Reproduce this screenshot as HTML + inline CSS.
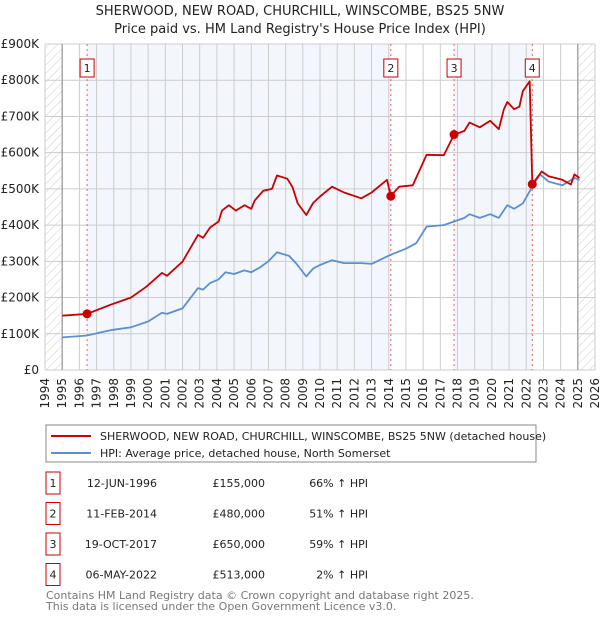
<!DOCTYPE html>
<html><head><meta charset="utf-8"><style>
body{margin:0;background:#fff;font-family:"DejaVu Sans","Liberation Sans",sans-serif;}
svg text{font-family:"DejaVu Sans","Liberation Sans",sans-serif;}
</style></head><body>
<svg id="c" width="600" height="620" xmlns="http://www.w3.org/2000/svg">
<defs><pattern id="h" width="6" height="6" patternUnits="userSpaceOnUse" patternTransform="rotate(45)"><line x1="0" y1="0" x2="0" y2="6" stroke="#ccc" stroke-width="1"/></pattern></defs>
<text x="300" y="15" text-anchor="middle" font-size="13" fill="#222">SHERWOOD, NEW ROAD, CHURCHILL, WINSCOMBE, BS25 5NW</text>
<text x="300" y="33" text-anchor="middle" font-size="13" fill="#222">Price paid vs. HM Land Registry's House Price Index (HPI)</text>
<g id="plot"></g>
<rect x="46" y="425" width="490" height="37" fill="#fff" stroke="#888"/>
<line x1="51" y1="436" x2="91" y2="436" stroke="#cc0000" stroke-width="2"/>
<text x="100" y="440" font-size="11" fill="#222">SHERWOOD, NEW ROAD, CHURCHILL, WINSCOMBE, BS25 5NW (detached house)</text>
<line x1="51" y1="453" x2="91" y2="453" stroke="#5b8fd4" stroke-width="2"/>
<text x="100" y="457" font-size="11" fill="#222">HPI: Average price, detached house, North Somerset</text>
<g id="tbl" font-size="11" fill="#222"></g>
<text x="46" y="599" font-size="11" fill="#777">Contains HM Land Registry data © Crown copyright and database right 2025.</text>
<text x="46" y="610" font-size="11" fill="#777">This data is licensed under the Open Government Licence v3.0.</text>
</svg>
<script>
const redYears=[1995,1996.45,1997.8,1999,1999.9,2000.8,2001.1,2002,2002.9,2003.2,2003.6,2004.1,2004.3,2004.7,2005.1,2005.6,2006,2006.2,2006.7,2007.2,2007.5,2008.1,2008.4,2008.7,2009.2,2009.6,2010,2010.7,2011.4,2012.4,2013,2013.9,2014.12];
const redVals=[150,155,180,200,230,268,260,299,373,365,393,410,440,455,440,455,445,468,495,500,537,528,505,460,428,461,479,506,490,474,490,525,480];
const red2Years=[2014.12,2014.6,2015.4,2016.2,2017.2,2017.8,2018.4,2018.7,2019.3,2019.9,2020.4,2020.7,2020.9,2021.3,2021.6,2021.8,2022.2,2022.35,2022.9,2023.3,2024.1,2024.6,2024.8,2025.1];
const red2Vals=[480,506,510,594,593,650,660,683,670,688,665,720,740,720,727,770,797,513,548,535,525,512,540,530];
const hpiYears=[1995,1996.4,1997.8,1999,2000,2000.8,2001.1,2002,2002.9,2003.2,2003.6,2004.1,2004.5,2005,2005.6,2006,2006.5,2007,2007.5,2008.2,2008.6,2008.8,2009.2,2009.6,2010,2010.7,2011.4,2012.4,2013,2014.1,2015,2015.6,2016.2,2017.2,2017.8,2018.4,2018.7,2019.3,2019.9,2020.4,2020.9,2021.3,2021.8,2022.35,2022.8,2023.3,2024.1,2024.8,2025.1];
const hpiVals=[90,95,110,118,134,158,155,170,226,222,240,250,270,265,275,270,283,300,325,315,295,283,258,280,290,303,295,295,293,318,335,350,396,400,410,420,430,420,430,420,455,445,460,506,540,520,510,530,525];
const saleYears=[1996.45,2014.12,2017.8,2022.35];
const saleVals=[155,480,650,513];
const saleDates=["12-JUN-1996","11-FEB-2014","19-OCT-2017","06-MAY-2022"];
const salePrices=["£155,000","£480,000","£650,000","£513,000"];
const salePct=["66% ↑ HPI","51% ↑ HPI","59% ↑ HPI","2% ↑ HPI"];
const yTicks=[0,100,200,300,400,500,600,700,800,900];
const yLabels=["£0","£100K","£200K","£300K","£400K","£500K","£600K","£700K","£800K","£900K"];
const xYears=[];for(let y=1994;y<=2026;y++)xYears.push(y);

const NS="http://www.w3.org/2000/svg";
const X0=45,X1=595,Y0=370,Y1=44,YR0=1994,YR1=2026;
const xs=y=>X0+(y-YR0)/(YR1-YR0)*(X1-X0);
const ys=v=>Y0-v/900*(Y0-Y1);
const plot=document.getElementById('plot');
function mk(tag,attrs,parent){const e=document.createElementNS(NS,tag);for(const k in attrs)e.setAttribute(k,attrs[k]);(parent||plot).appendChild(e);return e;}

// bands
const b1=mk('rect',{x:xs(saleYears[0]),y:Y1,width:xs(saleYears[1])-xs(saleYears[0]),height:Y0-Y1,fill:'#eef3fc',opacity:0.7});


const b2=mk('rect',{x:xs(saleYears[2]),y:Y1,width:xs(saleYears[3])-xs(saleYears[2]),height:Y0-Y1,fill:'#eef3fc',opacity:0.7});


const h1=mk('rect',{x:X0,y:Y1,width:xs(1995)-X0,height:Y0-Y1,fill:'url(#h)'});


const h2=mk('rect',{x:xs(2025),y:Y1,width:X1-xs(2025),height:Y0-Y1,fill:'url(#h)'});



// grid
yTicks.forEach((v,i)=>{
 const l=mk('line',{x1:X0,x2:X1,y1:ys(v),y2:ys(v),stroke:'#ccc','stroke-width':1});
 
 
 const t=mk('text',{x:X0-6,y:ys(v)+4,'text-anchor':'end','font-size':12,fill:'#222'});
 
 
 t.textContent=yLabels[i];
});
xYears.forEach(y=>{
 const l=mk('line',{x1:xs(y),x2:xs(y),y1:Y1,y2:Y0,stroke:'#ccc','stroke-width':1});
 
 
 const t=mk('text',{x:0,y:0,'text-anchor':'end','font-size':12,fill:'#222',transform:`translate(${xs(y)+4},378) rotate(-90)`});
 
 
 t.textContent=y;
});
[1995,2025].forEach(y=>{
 const l=mk('line',{x1:xs(y),x2:xs(y),y1:Y1,y2:Y0,stroke:'#999','stroke-width':1.2});
 
 
});
// sale markers
saleYears.forEach((y,i)=>{
 const l=mk('line',{x1:xs(y),x2:xs(y),y1:Y1,y2:Y0,stroke:'#f06060','stroke-width':1,'stroke-dasharray':'2,3'});
 
 
 const r=mk('rect',{x:xs(y)-7,y:59,width:14,height:18,fill:'#fff',stroke:'#cc0000'});
 
 
 const t=mk('text',{x:xs(y),y:72,'text-anchor':'middle','font-size':11,fill:'#222'});
 
 
 t.textContent=i+1;
});
function path(xa,va,color,name){
 const d=xa.map((y,i)=>(i?'L':'M')+xs(y).toFixed(1)+','+ys(va[i]).toFixed(1)).join('');
 const p=mk('path',{d,fill:'none',stroke:color,'stroke-width':1.8,'stroke-linejoin':'round'});
 
 
}
path(hpiYears,hpiVals,'#5b8fd4','hpi-line');
path(redYears,redVals,'#cc0000','property-price-line');
path(red2Years,red2Vals,'#cc0000','property-price-line-2');
saleYears.forEach((y,i)=>{
 const c=mk('circle',{cx:xs(y),cy:ys(saleVals[i]),r:4.5,fill:'#cc0000'});
 
 
});
// table
const tbl=document.getElementById('tbl');
saleDates.forEach((d,i)=>{
 const yy=483+i*30.5;
 const r=mk('rect',{x:46,y:yy-11,width:14,height:22,fill:'#fff',stroke:'#cc0000'},tbl);
 
 
 const n=mk('text',{x:53,y:yy+4,'text-anchor':'middle'},tbl);
 
 
 n.textContent=i+1;
 const t1=mk('text',{x:157,y:yy+4,'text-anchor':'end'},tbl);
 
 
 t1.textContent=d;
 const t2=mk('text',{x:265,y:yy+4,'text-anchor':'end'},tbl);
 
 
 t2.textContent=salePrices[i];
 const t3=mk('text',{x:368,y:yy+4,'text-anchor':'end'},tbl);
 
 
 t3.textContent=salePct[i];
});
</script>
</body></html>
